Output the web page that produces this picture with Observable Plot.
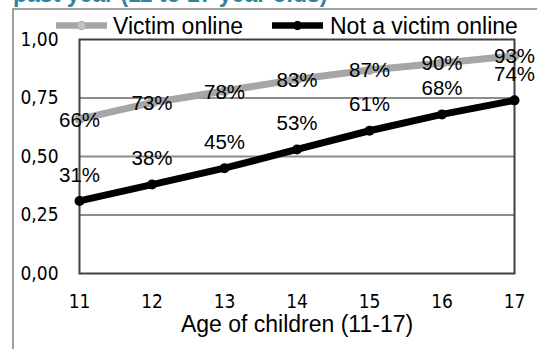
<!DOCTYPE html>
<html>
<head>
<meta charset="utf-8">
<script src="https://cdn.jsdelivr.net/npm/d3@7"></script>
<script src="https://cdn.jsdelivr.net/npm/@observablehq/plot@0.6"></script>
<style>
  html, body { margin: 0; padding: 0; background: #fff; }
  #wrap { position: relative; width: 537px; height: 349px; overflow: hidden; }
  #wrap > svg { position: absolute; left: 0; top: 0; }
</style>
</head>
<body>
<div id="wrap"></div>
<script>
// Share of children (11-17) by age, split by online victimisation in the past year
const ages = [11, 12, 13, 14, 15, 16, 17];
const victimOnline = [0.66, 0.73, 0.78, 0.83, 0.87, 0.90, 0.93];
const notVictimOnline = [0.31, 0.38, 0.45, 0.53, 0.61, 0.68, 0.74];
const seriesNames = ["Victim online", "Not a victim online"];
const yTicks = [0, 0.25, 0.5, 0.75, 1];
const gridValues = [0.25, 0.5, 0.75];
const titleText = "past year (11 to 17 year olds)";
const xLabel = "Age of children (11-17)";

const colors = { "Victim online": "#a6a6a6", "Not a victim online": "#000000" };
const markerFill = { "Victim online": "#a6a6a6", "Not a victim online": "#000000" };

const rows = [];
ages.forEach((a, i) => {
  rows.push({ age: a, value: victimOnline[i], series: seriesNames[0] });
  rows.push({ age: a, value: notVictimOnline[i], series: seriesNames[1] });
});
const victimRows = rows.filter(d => d.series === seriesNames[0]);
const notRows = rows.filter(d => d.series === seriesNames[1]);
const pct = d => Math.round(d.value * 100) + "%";

const sansFont = "'Liberation Sans', Arial, sans-serif";
const tickFont = "'DejaVu Sans Condensed', 'DejaVu Sans', sans-serif";

const chart = Plot.plot({
  width: 537,
  height: 349,
  marginLeft: 79,
  marginRight: 23,
  marginTop: 39,
  marginBottom: 76,
  style: { fontFamily: tickFont, fontSize: "19px", color: "#000", background: "transparent" },
  x: { domain: [11, 17], ticks: ages, label: null },
  y: { domain: [0, 1], ticks: yTicks, label: null },
  marks: [
    Plot.ruleY(gridValues, { stroke: "#8c8c8c", strokeWidth: 2 }),
    Plot.frame({ stroke: "#404040", strokeWidth: 2 }),
    Plot.axisY(yTicks, {
      tickSize: 0, tickPadding: 21, label: null,
      tickFormat: d => d.toFixed(2).replace(".", ","),
      fontFamily: tickFont, fontSize: 19
    }),
    Plot.axisX(ages, {
      tickSize: 0, tickPadding: 21, label: null,
      tickFormat: d => String(d),
      fontFamily: tickFont, fontSize: 19
    }),
    Plot.line(rows, {
      x: "age", y: "value", z: "series",
      stroke: d => colors[d.series], strokeWidth: 7, strokeLinejoin: "round", strokeLinecap: "butt"
    }),
    Plot.dot(rows, {
      x: "age", y: "value", r: 5,
      fill: d => markerFill[d.series], stroke: "none"
    }),
    Plot.text(victimRows, {
      x: "age", y: "value", text: pct, dy: 1,
      fontFamily: sansFont, fontSize: 20.5, fill: "#000"
    }),
    Plot.text(notRows, {
      x: "age", y: "value", text: pct, dy: -26,
      fontFamily: sansFont, fontSize: 20.5, fill: "#000"
    }),
    Plot.text([xLabel], {
      frameAnchor: "bottom", lineAnchor: "middle", dy: 51, text: d => d,
      fontFamily: sansFont, fontSize: 23, fill: "#000"
    })
  ]
});

const wrap = document.getElementById("wrap");
wrap.appendChild(chart);

// Overlay: outer chart border, clipped title line and legend
const ov = d3.select(wrap).append("svg")
  .attr("width", 537).attr("height", 349)
  .style("pointer-events", "none");

ov.append("text")
  .attr("x", 13).attr("y", 2)
  .attr("font-family", sansFont).attr("font-weight", "bold")
  .attr("font-size", 23).attr("fill", "#31849b")
  .text(titleText);

ov.append("path")
  .attr("d", "M13,349 V9 H537")
  .attr("fill", "none").attr("stroke", "#a0a0a0").attr("stroke-width", 2);

const legendItems = [
  { name: seriesNames[0], x0: 56, x1: 107, tx: 113, fill: "#c4c4c4", stroke: colors[seriesNames[0]] },
  { name: seriesNames[1], x0: 272, x1: 323, tx: 330, fill: "#000", stroke: colors[seriesNames[1]] }
];
const lg = ov.selectAll("g.lg").data(legendItems).join("g").attr("class", "lg");
lg.append("line")
  .attr("x1", d => d.x0).attr("x2", d => d.x1)
  .attr("y1", 25.5).attr("y2", 25.5)
  .attr("stroke", d => d.stroke).attr("stroke-width", 6.5);
lg.append("circle")
  .attr("cx", d => (d.x0 + d.x1) / 2).attr("cy", 25.5).attr("r", 4.2)
  .attr("fill", d => d.fill).attr("stroke", d => d.stroke).attr("stroke-width", 1);
lg.append("text")
  .attr("x", d => d.tx).attr("y", 34)
  .attr("font-family", sansFont).attr("font-size", 23).attr("fill", "#000")
  .text(d => d.name);
</script>
</body>
</html>
